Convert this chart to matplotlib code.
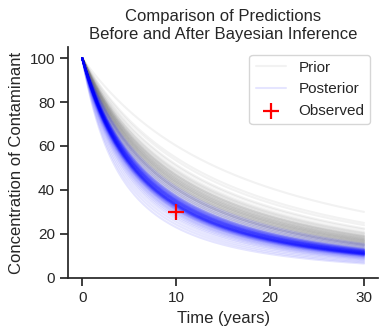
import numpy as np
import matplotlib.pyplot as plt
import seaborn as sns

sns.set_theme(style='ticks')
plt.rcParams['font.family'] = ['Liberation Sans', 'DejaVu Sans']

# every curve starts at c0; each one is identified by its concentration at t=30
# (read off the chart). Curves follow c0 * (1 + a*t)^(-shape).
c0 = 100
t_end = 30
shape = 1.6
prior_end = [30, 25, 24, 22.5, 22, 21, 20.5, 20, 19.5, 19, 19, 18.5, 18.5, 18, 18,
             17.5, 17.5, 17, 17, 17, 16.5, 16.5, 16, 16, 16, 15.5, 15.5, 15, 15,
             15, 14.5, 14.5, 14, 14, 13.5, 13, 17.8, 17.2, 16.8, 18.2, 19.2, 15.8,
             14.8, 16.2, 18.8, 17.6, 20.2, 13.8, 15.2, 16.6]
post_end = [15.5, 15, 14.5, 14, 13.5, 13.2, 13, 12.8, 12.6, 12.5, 12.4, 12.3, 12.2,
            12, 12, 12, 11.8, 11.8, 11.7, 11.6, 11.5, 11.5, 11.4, 11.3, 11.2, 11.2,
            11.1, 11, 11, 11, 10.9, 10.8, 10.8, 10.7, 10.6, 10.5, 10.5, 10.4, 10.3,
            10.2, 10.1, 10, 9.9, 9.8, 9.6, 9.4, 9.2, 9, 8.7, 8.4, 8, 7.5, 7, 6.5,
            12.1, 11.9, 11.3, 10.9, 11.6, 12.7, 12.9, 11.4, 10.6, 11.8, 12.2, 13.1,
            10.7, 11.1, 12.4, 11.0]
obs_t = [10]
obs_c = [30]

t = np.linspace(0, t_end, 200)


def curve(c_end):
    a = ((c0 / c_end) ** (1 / shape) - 1) / t_end
    return c0 * (1 + a * t) ** (-shape)


fig, ax = plt.subplots(figsize=(3.89, 3.36), dpi=100)

for i, ce in enumerate(prior_end):
    ax.plot(t, curve(ce), color='gray', alpha=0.1,
            label='Prior' if i == 0 else None)

for i, ce in enumerate(post_end):
    ax.plot(t, curve(ce), color='blue', alpha=0.1,
            label='Posterior' if i == 0 else None)

ax.scatter(obs_t, obs_c, color='red', marker='+', s=120, linewidths=1.6,
           label='Observed', zorder=5)

ax.set_ylim(0, 105)
ax.set_xticks([0, 10, 20, 30])
ax.set_xlabel('Time (years)')
ax.set_ylabel('Concentration of Contaminant')
ax.set_title('Comparison of Predictions\nBefore and After Bayesian Inference')
ax.legend(loc='upper right')
sns.despine()

plt.subplots_adjust(left=0.175, right=0.972, top=0.86, bottom=0.173)
plt.savefig('out.png', dpi=100)
